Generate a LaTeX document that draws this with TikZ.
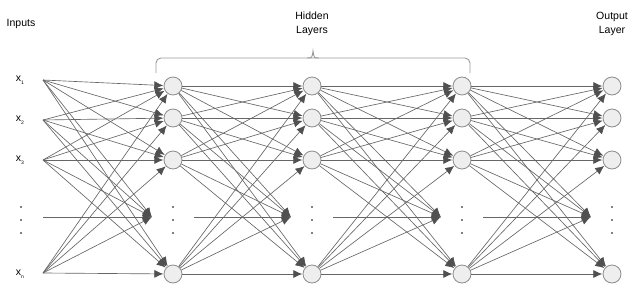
\documentclass[tikz,border=0pt]{standalone}
\usepackage{fontspec}
\setmainfont{Liberation Sans}
\usetikzlibrary{arrows.meta}
\definecolor{linecol}{HTML}{666666}
\definecolor{arrowcol}{HTML}{505050}
\definecolor{neuronfill}{HTML}{EEEEEE}
\definecolor{neurondraw}{HTML}{8C8C8C}
\definecolor{bracecol}{HTML}{9A9A9A}
\newcommand\xsub[1]{x\raisebox{-3pt}{\fontsize{5}{5}\selectfont #1}}
\begin{document}
\begin{tikzpicture}[x=1pt,y=-1pt,
  neuron/.style={circle,draw=neurondraw,fill=neuronfill,line width=0.8pt,minimum size=18pt,inner sep=0pt},
  conn/.style={draw=linecol,line width=0.65pt,-{Latex[length=9pt,width=8pt,color=arrowcol]},shorten >=0.3pt},
  lbl/.style={font=\fontsize{10.5}{14}\selectfont,inner sep=0pt,align=center},
  dotmark/.style={circle,fill=black,inner sep=0pt,minimum size=1.6pt}]
\useasboundingbox (0,0) rectangle (640,295);
% inputs
\coordinate (n0-1) at (43,80);
\coordinate (n0-2) at (43,120);
\coordinate (n0-3) at (43,160);
\coordinate (n0-n) at (43,273);
\coordinate (s0) at (43,217);
\node[lbl] (lx1) at (20,80) {\xsub{1}};
\node[lbl] (lx2) at (20,120) {\xsub{2}};
\node[lbl] (lx3) at (20,160) {\xsub{3}};
\node[lbl] (lxn) at (20,274) {\xsub{n}};
\node[dotmark] (id1) at (21,207) {};
\node[dotmark] (id2) at (21,220) {};
\node[dotmark] (id3) at (21,233) {};
% layers
\foreach \l/\x in {1/173,2/312,3/462,4/612}{
  \node[neuron] (n\l-1) at (\x,86) {};
  \node[neuron] (n\l-2) at (\x,118) {};
  \node[neuron] (n\l-3) at (\x,160) {};
  \node[neuron] (n\l-n) at (\x,274) {};
  \coordinate (m\l) at (\x-21,217);
  \coordinate (s\l) at (\x+21,217);
  \node[dotmark] (d\l-1) at (\x,207) {};
  \node[dotmark] (d\l-2) at (\x,220) {};
  \node[dotmark] (d\l-3) at (\x,233) {};
}
% connections
\foreach \l in {1,2,3,4}{
  \pgfmathtruncatemacro{\p}{\l-1}
  \foreach \s in {1,2,3,n}{
    \foreach \t in {1,2,3,n}{
      \draw[conn] (n\p-\s) -- (n\l-\t);
    }
    \draw[conn] (n\p-\s) -- (m\l);
  }
  \draw[conn] (s\p) -- (m\l);
}
% brace
\draw[bracecol,line width=0.9pt,rounded corners=5pt] (156,73) -- (156,58) -- (470,58) -- (470,73);
\draw[bracecol,line width=0.9pt] (307,58) .. controls (312,58) .. (313,51) .. controls (314,58) .. (319,58);
% labels
\node[lbl] (inputs) at (21,24) {Inputs};
\node[lbl] (hidden) at (312,24) {Hidden\\Layers};
\node[lbl] (output) at (612,24) {Output\\Layer};
\end{tikzpicture}
\end{document}
